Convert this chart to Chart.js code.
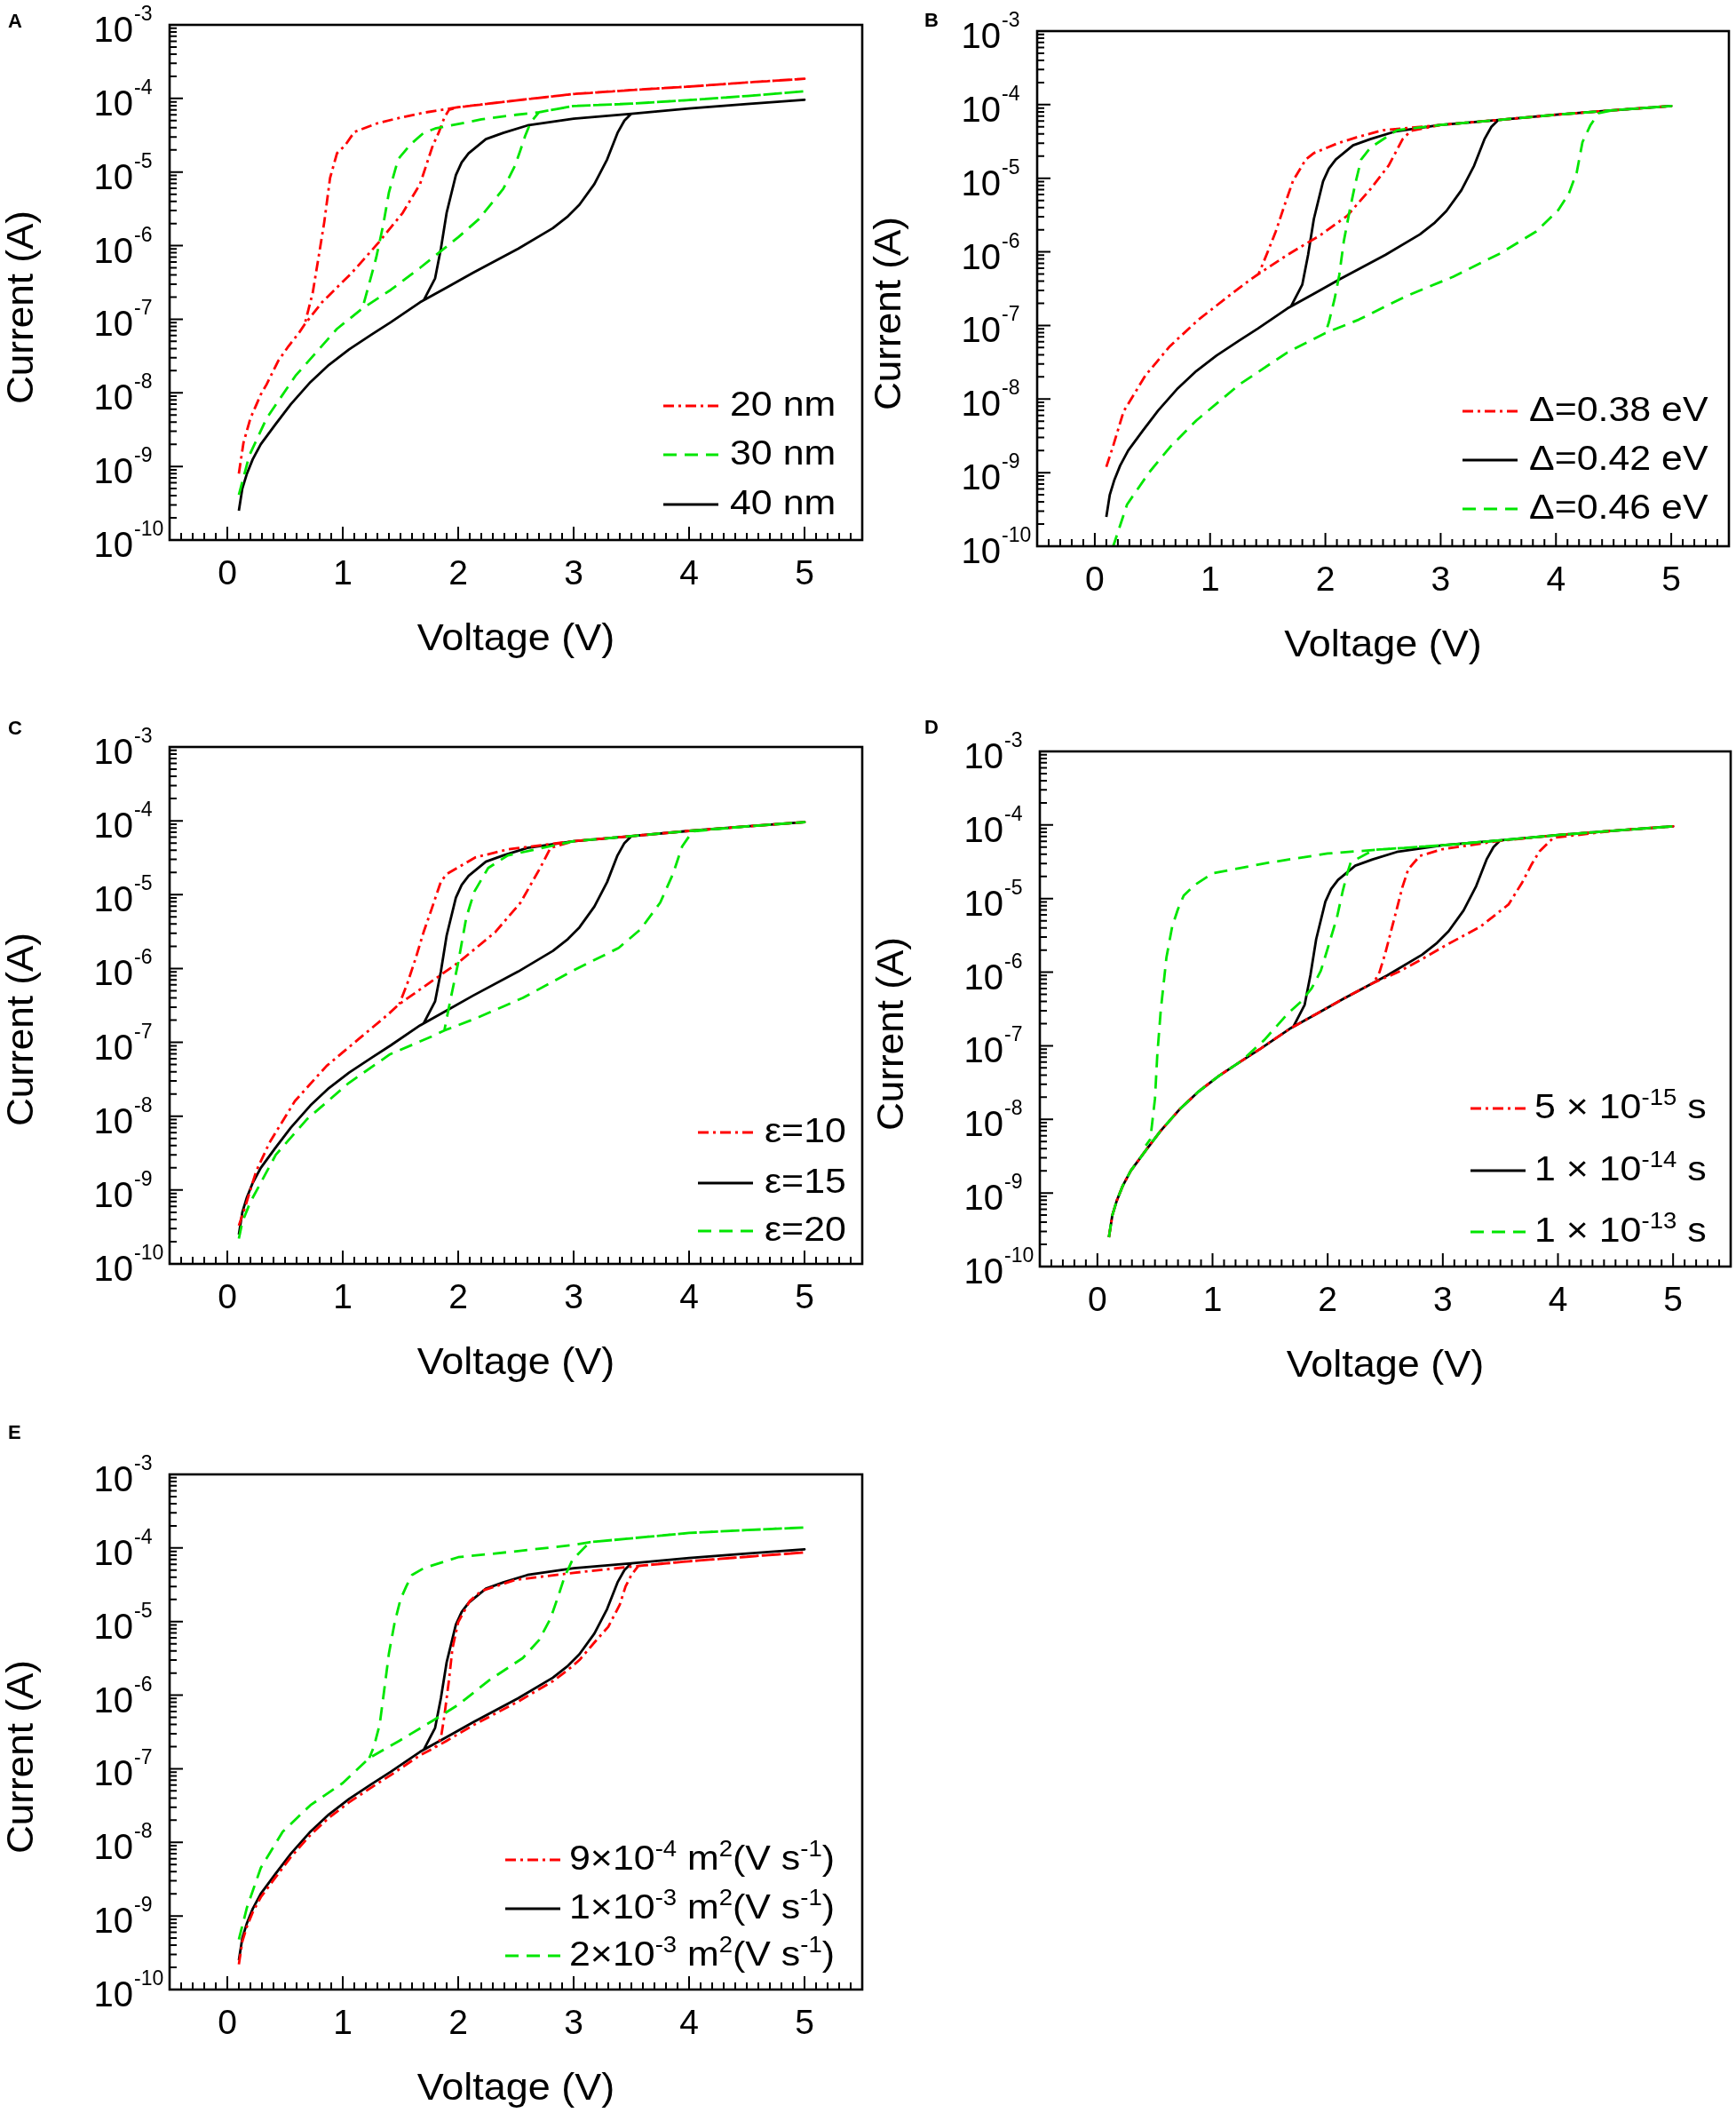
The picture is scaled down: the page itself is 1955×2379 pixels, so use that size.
<!DOCTYPE html>
<html>
<head>
<meta charset="utf-8">
<script src="https://cdn.jsdelivr.net/npm/chart.js@4.4.0/dist/chart.umd.min.js"></script>
<style>
  body { margin: 0; background: #fff; }
  #page { position: relative; width: 1955px; height: 2379px; background: #fff; }
  canvas { position: absolute; }
</style>
</head>
<body>
<div id="page"></div>
<script>
// ---- axis ticks ----
const xTicks = [0, 1, 2, 3, 4, 5];
const xTickLabels = ['0', '1', '2', '3', '4', '5'];
const yExps = [-10, -9, -8, -7, -6, -5, -4, -3];

// ---- reference curve (black), same in every panel: forward sweep, then back ----
const blackV = [0.1, 0.13, 0.17, 0.22, 0.29, 0.415, 0.55, 0.72, 0.88, 1.055, 1.25, 1.415, 1.67, 1.9, 2.13, 2.52, 2.82, 2.95, 3.05,
  3.18, 3.29, 3.38, 3.44, 3.5, 4.0, 4.5, 5.0,
  4.5, 4.0, 3.5, 3.0, 2.6, 2.39, 2.24, 2.09, 2.03, 1.98, 1.9, 1.85, 1.8, 1.7];
const blackI = [2.5e-10, 5e-10, 8e-10, 1.25e-9, 2e-9, 3.7e-9, 7e-9, 1.4e-8, 2.4e-8, 3.9e-8, 6.2e-8, 9.1e-8, 1.7e-7, 2.7e-7, 4.3e-7, 9.1e-7, 1.73e-6, 2.5e-6, 3.6e-6,
  6.9e-6, 1.48e-5, 3.4e-5, 5e-5, 6.2e-5, 7.3e-5, 8.4e-5, 9.6e-5,
  8.4e-5, 7.3e-5, 6.2e-5, 5.3e-5, 4.3e-5, 3.4e-5, 2.8e-5, 1.8e-5, 1.35e-5, 9.1e-6, 2.8e-6, 9.1e-7, 3.6e-7, 1.8e-7];

// ---- A: thickness ----
const aRedV = [0.1, 0.14, 0.2, 0.29, 0.34, 0.44, 0.53, 0.62, 0.67, 0.82, 1.08, 1.31, 1.52, 1.67, 1.78, 1.83, 1.88, 1.92, 2.0, 2.5, 3.0, 3.5, 4.0, 4.5, 5.0,
  4.5, 4.0, 3.5, 3.0, 2.5, 2.0, 1.7, 1.5, 1.3, 1.1, 1.02, 0.95, 0.89, 0.84, 0.79, 0.74, 0.67];
const aRedI = [8e-10, 2.1e-9, 4.5e-9, 9.5e-9, 1.3e-8, 2.7e-8, 4.3e-8, 6.5e-8, 8.5e-8, 1.7e-7, 4.3e-7, 1.1e-6, 2.8e-6, 6.9e-6, 2.3e-5, 3.4e-5, 5.5e-5, 7e-5, 7.6e-5, 9.4e-5, 1.15e-4, 1.3e-4, 1.45e-4, 1.65e-4, 1.85e-4,
  1.65e-4, 1.45e-4, 1.3e-4, 1.15e-4, 9.4e-5, 7.6e-5, 6.4e-5, 5.5e-5, 4.6e-5, 3.5e-5, 2.3e-5, 1.8e-5, 8.3e-6, 2.1e-6, 6.9e-7, 2.3e-7, 8.5e-8];
const aGreenV = [0.1, 0.19, 0.34, 0.59, 0.95, 1.17, 1.415, 1.67, 2.0, 2.18, 2.39, 2.49, 2.54, 2.58, 2.63, 2.7, 3.0, 3.5, 4.0, 4.5, 5.0,
  4.5, 4.0, 3.5, 3.0, 2.7, 2.5, 2.2, 2.0, 1.8, 1.7, 1.59, 1.48, 1.4, 1.35, 1.29, 1.22, 1.17];
const aGreenI = [4.1e-10, 1.4e-9, 4.5e-9, 1.7e-8, 7.4e-8, 1.4e-7, 2.5e-7, 5e-7, 1.3e-6, 2.3e-6, 5.9e-6, 1.2e-5, 2e-5, 3.1e-5, 4.8e-5, 6.5e-5, 7.9e-5, 8.5e-5, 9.5e-5, 1.08e-4, 1.25e-4,
  1.08e-4, 9.5e-5, 8.5e-5, 7.9e-5, 6.5e-5, 6e-5, 5.2e-5, 4.5e-5, 3.9e-5, 3.4e-5, 2.4e-5, 1.5e-5, 5.3e-6, 1.9e-6, 6.9e-7, 2.7e-7, 1.4e-7];

// ---- B: barrier ----
const bRedV = [0.1, 0.155, 0.25, 0.44, 0.65, 0.9, 1.16, 1.35, 1.42, 1.67, 1.96, 2.19, 2.39, 2.55, 2.67, 2.74, 3.0, 3.5, 4.0, 4.5, 5.0,
  4.5, 4.0, 3.5, 3.0, 2.5, 2.27, 2.11, 1.9, 1.83, 1.72, 1.65, 1.57, 1.5, 1.44, 1.42];
const bRedI = [1.2e-9, 2.2e-9, 6.8e-9, 2.1e-8, 5.2e-8, 1.2e-7, 2.5e-7, 4.2e-7, 5e-7, 9.1e-7, 1.7e-6, 3.1e-6, 7.1e-6, 1.5e-5, 3.4e-5, 4.4e-5, 5.3e-5, 6.2e-5, 7.3e-5, 8.4e-5, 9.6e-5,
  8.4e-5, 7.3e-5, 6.2e-5, 5.3e-5, 4.5e-5, 3.6e-5, 3e-5, 2.2e-5, 1.8e-5, 9.3e-6, 4.5e-6, 1.9e-6, 1e-6, 5.9e-7, 5e-7];
const bGreenV = [0.1, 0.16, 0.28, 0.47, 0.65, 0.88, 1.26, 1.67, 2.0, 2.29, 2.7, 3.11, 3.52, 3.83, 4.02, 4.11, 4.18, 4.23, 4.3, 4.37, 4.5, 5.0,
  4.5, 4.0, 3.5, 3.0, 2.62, 2.39, 2.31, 2.26, 2.21, 2.16, 2.12, 2.08, 2.03, 2.0];
const bGreenI = [5e-11, 1e-10, 3.7e-10, 1e-9, 2.2e-9, 5.1e-9, 1.6e-8, 4.3e-8, 7.9e-8, 1.2e-7, 2.5e-7, 4.6e-7, 9.6e-7, 1.9e-6, 3.7e-6, 6.1e-6, 1.2e-5, 3.1e-5, 5.3e-5, 7.7e-5, 8.4e-5, 9.6e-5,
  8.4e-5, 7.3e-5, 6.2e-5, 5.3e-5, 4.5e-5, 2.6e-5, 1.8e-5, 8.5e-6, 3.6e-6, 1.4e-6, 4.8e-7, 2.3e-7, 1.1e-7, 7.9e-8];

// ---- C: permittivity ----
const cRedV = [0.1, 0.16, 0.25, 0.366, 0.585, 0.86, 1.135, 1.38, 1.49, 1.82, 2.0, 2.32, 2.54, 2.71, 2.8, 3.0, 3.5, 4.0, 4.5, 5.0,
  4.5, 4.0, 3.5, 3.0, 2.43, 2.15, 1.9, 1.85, 1.77, 1.7, 1.63, 1.56, 1.49];
const cRedI = [3.3e-10, 6.3e-10, 1.8e-9, 4.4e-9, 1.6e-8, 4.8e-8, 1.1e-7, 2.3e-7, 3.3e-7, 7.6e-7, 1.2e-6, 3.1e-6, 7.8e-6, 2.3e-5, 4.3e-5, 5.3e-5, 6.2e-5, 7.3e-5, 8.4e-5, 9.6e-5,
  8.4e-5, 7.3e-5, 6.2e-5, 5.3e-5, 4.1e-5, 3.2e-5, 1.9e-5, 1.5e-5, 6.4e-6, 3.1e-6, 1.35e-6, 6.3e-7, 3.3e-7];
const cGreenV = [0.1, 0.13, 0.2, 0.42, 0.69, 1.05, 1.41, 1.77, 1.88, 2.15, 2.56, 2.98, 3.39, 3.58, 3.75, 3.86, 3.94, 4.03, 4.5, 5.0,
  4.5, 4.0, 3.5, 3.0, 2.43, 2.26, 2.14, 2.07, 2.0, 1.93, 1.88];
const cGreenI = [2.2e-10, 3.7e-10, 6.9e-10, 3e-9, 9.1e-9, 2.8e-8, 6.9e-8, 1.2e-7, 1.45e-7, 2.1e-7, 4e-7, 9.1e-7, 1.9e-6, 3.4e-6, 7.8e-6, 1.9e-5, 4.5e-5, 7.2e-5, 8.4e-5, 9.6e-5,
  8.4e-5, 7.3e-5, 6.2e-5, 5.3e-5, 3.4e-5, 2.3e-5, 1.1e-5, 4.9e-6, 1.2e-6, 3.6e-7, 1.45e-7];

// ---- D: relaxation time ----
const dRedV = [0.1, 0.13, 0.17, 0.22, 0.29, 0.415, 0.55, 0.72, 0.88, 1.055, 1.25, 1.415, 1.67, 1.9, 2.13, 2.4, 2.61, 2.8, 3.0, 3.33, 3.57, 3.69, 3.77, 3.84, 3.96, 4.5, 5.0,
  4.5, 4.0, 3.5, 3.0, 2.8, 2.7, 2.65, 2.6, 2.55, 2.5, 2.45, 2.4];
const dRedI = [2.5e-10, 5e-10, 8e-10, 1.25e-9, 2e-9, 3.7e-9, 7e-9, 1.4e-8, 2.4e-8, 3.9e-8, 6.2e-8, 9.1e-8, 1.7e-7, 2.7e-7, 4.3e-7, 7.2e-7, 1e-6, 1.45e-6, 2.2e-6, 4.2e-6, 8.3e-6, 1.66e-5, 2.9e-5, 4.4e-5, 6.7e-5, 8.4e-5, 9.6e-5,
  8.4e-5, 7.3e-5, 6.1e-5, 4.7e-5, 3.8e-5, 2.5e-5, 1.45e-5, 7.2e-6, 3.6e-6, 1.8e-6, 1e-6, 7.2e-7];
const dGreenV = [0.1, 0.13, 0.17, 0.22, 0.29, 0.415, 0.55, 0.72, 0.88, 1.055, 1.25, 1.45, 1.55, 1.65, 1.77, 1.86, 1.94, 2.0, 2.08, 2.13, 2.17, 2.2, 2.4, 3.0, 3.5, 4.0, 4.5, 5.0,
  4.5, 4.0, 3.5, 3.0, 2.5, 2.0, 1.5, 1.0, 0.85, 0.75, 0.7, 0.65, 0.6, 0.55, 0.52, 0.5, 0.46, 0.42];
const dGreenI = [2.5e-10, 5e-10, 8e-10, 1.25e-9, 2e-9, 3.7e-9, 7e-9, 1.4e-8, 2.4e-8, 3.9e-8, 6.2e-8, 1.2e-7, 1.8e-7, 2.7e-7, 4e-7, 6e-7, 1.04e-6, 2.1e-6, 5.5e-6, 1.25e-5, 2.2e-5, 3.1e-5, 4.6e-5, 5.3e-5, 6.2e-5, 7.3e-5, 8.4e-5, 9.6e-5,
  8.4e-5, 7.3e-5, 6.2e-5, 5.3e-5, 4.7e-5, 4.1e-5, 3.1e-5, 2.2e-5, 1.55e-5, 1.1e-5, 7.2e-6, 4.2e-6, 1.6e-6, 3e-7, 7.4e-8, 1.9e-8, 5.4e-9, 4.4e-9];

// ---- E: mobility ----
const eRedV = [0.1, 0.13, 0.17, 0.22, 0.29, 0.415, 0.55, 0.72, 0.88, 1.055, 1.25, 1.415, 1.67, 1.8, 1.9, 2.13, 2.52, 2.82, 2.95, 3.05, 3.18, 3.3, 3.4, 3.45, 3.5, 3.56, 4.0, 4.5, 5.0,
  4.5, 4.0, 3.56, 3.0, 2.5, 2.2, 2.1, 2.0, 1.95, 1.92, 1.88, 1.85, 1.8];
const eRedI = [2.2e-10, 4.5e-10, 7.2e-10, 1.12e-9, 1.8e-9, 3.3e-9, 6.3e-9, 1.26e-8, 2.16e-8, 3.5e-8, 5.6e-8, 8.2e-8, 1.53e-7, 1.95e-7, 2.4e-7, 3.9e-7, 8.2e-7, 1.55e-6, 2.2e-6, 3e-6, 5.2e-6, 8.5e-6, 1.7e-5, 3e-5, 4.3e-5, 5.7e-5, 6.6e-5, 7.6e-5, 8.7e-5,
  7.6e-5, 6.6e-5, 5.7e-5, 4.6e-5, 3.7e-5, 2.6e-5, 1.9e-5, 9.8e-6, 4.3e-6, 1.6e-6, 5.2e-7, 2.6e-7, 1.95e-7];
const eGreenV = [0.1, 0.17, 0.29, 0.48, 0.72, 1.0, 1.23, 1.49, 1.78, 2.0, 2.27, 2.56, 2.7, 2.8, 2.87, 2.92, 2.99, 3.09, 3.14, 4.0, 4.5, 5.0,
  4.5, 4.0, 3.14, 3.0, 2.5, 2.0, 1.7, 1.6, 1.55, 1.5, 1.45, 1.4, 1.36, 1.32, 1.27, 1.23];
const eGreenI = [4.8e-10, 1.3e-9, 4.5e-9, 1.4e-8, 3.2e-8, 6.4e-8, 1.4e-7, 2.4e-7, 4.5e-7, 7.4e-7, 1.6e-6, 3.2e-6, 5.6e-6, 1.1e-5, 2.3e-5, 4e-5, 6.9e-5, 1e-4, 1.2e-4, 1.6e-4, 1.75e-4, 1.9e-4,
  1.75e-4, 1.6e-4, 1.2e-4, 1.1e-4, 9e-5, 7.5e-5, 5.3e-5, 4.3e-5, 3e-5, 2e-5, 9.8e-6, 3.7e-6, 1.2e-6, 4e-7, 2e-7, 1.4e-7];

// ---- legend labels (^{..} = superscript) ----
const legendA = ['20 nm', '30 nm', '40 nm'];
const legendB = ['\u0394=0.38 eV', '\u0394=0.42 eV', '\u0394=0.46 eV'];
const legendC = ['\u03b5=10', '\u03b5=15', '\u03b5=20'];
const legendD = ['5 \u00d7 10^{-15} s', '1 \u00d7 10^{-14} s', '1 \u00d7 10^{-13} s'];
const legendE = ['9\u00d710^{-4} m^{2}(V s^{-1})', '1\u00d710^{-3} m^{2}(V s^{-1})', '2\u00d710^{-3} m^{2}(V s^{-1})'];

const FONT = "'Liberation Sans', Arial, Helvetica, sans-serif";
const STYLES = {
  red:   { color: '#ff0000', dash: [12, 5, 3, 5] },
  green: { color: '#00e600', dash: [15, 9] },
  black: { color: '#000000', dash: [] }
};

const panels = [
  { letter: 'A', box: [0, 0, 977, 790], plot: [191, 28, 971, 608], letterAt: [9, 31],
    series: [[aGreenV, aGreenI, 'green'], [aRedV, aRedI, 'red'], [blackV, blackI, 'black']],
    legend: { labels: legendA, styles: ['red', 'green', 'black'], sx: 556, tx: 631, rows: [426, 481, 537] } },
  { letter: 'B', box: [977, 0, 978, 790], plot: [1168, 35, 1947, 615], letterAt: [64, 30],
    series: [[bGreenV, bGreenI, 'green'], [bRedV, bRedI, 'red'], [blackV, blackI, 'black']],
    legend: { labels: legendB, styles: ['red', 'black', 'green'], sx: 479, tx: 554, rows: [425, 480, 535] } },
  { letter: 'C', box: [0, 790, 977, 800], plot: [191, 841, 971, 1423], letterAt: [9, 37],
    series: [[cGreenV, cGreenI, 'green'], [cRedV, cRedI, 'red'], [blackV, blackI, 'black']],
    legend: { labels: legendC, styles: ['red', 'black', 'green'], sx: 595, tx: 670, rows: [431, 488, 542] } },
  { letter: 'D', box: [977, 790, 978, 800], plot: [1171, 846, 1949, 1426], letterAt: [64, 36],
    series: [[dGreenV, dGreenI, 'green'], [dRedV, dRedI, 'red'], [blackV, blackI, 'black']],
    legend: { labels: legendD, styles: ['red', 'black', 'green'], sx: 485, tx: 557, rows: [399, 469, 538] } },
  { letter: 'E', box: [0, 1590, 977, 789], plot: [191, 1660, 971, 2240], letterAt: [9, 30],
    series: [[eGreenV, eGreenI, 'green'], [eRedV, eRedI, 'red'], [blackV, blackI, 'black']],
    legend: { labels: legendE, styles: ['red', 'black', 'green'], sx: 378, tx: 450, rows: [431, 486, 539] } }
];

// text with ^{..} superscripts, stretched horizontally by sx
function richText(ctx, str, x, y, size, supSize, rise, sx) {
  const parts = str.split(/(\^\{[^}]*\})/).filter(s => s.length);
  ctx.save();
  ctx.translate(x, y);
  ctx.scale(sx, 1);
  ctx.textAlign = 'left';
  ctx.textBaseline = 'alphabetic';
  let cx = 0;
  parts.forEach(p => {
    if (p.startsWith('^{')) {
      const t = p.slice(2, -1);
      ctx.font = supSize + 'px ' + FONT;
      ctx.fillText(t, cx, -rise);
      cx += ctx.measureText(t).width;
    } else {
      ctx.font = size + 'px ' + FONT;
      ctx.fillText(p, cx, 0);
      cx += ctx.measureText(p).width;
    }
  });
  ctx.restore();
}

function makeDecor(p) {
  return {
    id: 'decor' + p.letter,
    afterDraw(chart) {
      const { ctx, chartArea: a } = chart;
      const xs = chart.scales.x, ys = chart.scales.y;
      ctx.save();
      ctx.fillStyle = '#000';
      ctx.strokeStyle = '#000';

      // frame
      ctx.lineWidth = 2.6;
      ctx.setLineDash([]);
      ctx.strokeRect(a.left, a.top, a.right - a.left, a.bottom - a.top);

      // inward ticks
      ctx.lineWidth = 2;
      ctx.beginPath();
      yExps.forEach(e => {
        const py = ys.getPixelForValue(Math.pow(10, e));
        ctx.moveTo(a.left, py); ctx.lineTo(a.left + 15, py);
        if (e < -3) {
          for (let k = 2; k <= 9; k++) {
            const q = ys.getPixelForValue(k * Math.pow(10, e));
            ctx.moveTo(a.left, q); ctx.lineTo(a.left + 8, q);
          }
        }
      });
      for (let i = -5; i <= 55; i++) {
        const px = xs.getPixelForValue(i / 10);
        const len = i % 10 === 0 ? 15 : 8;
        ctx.moveTo(px, a.bottom); ctx.lineTo(px, a.bottom - len);
      }
      ctx.stroke();

      // y tick labels 10^n
      yExps.forEach(e => {
        const py = ys.getPixelForValue(Math.pow(10, e));
        ctx.font = '40px ' + FONT;
        ctx.textAlign = 'right';
        ctx.textBaseline = 'alphabetic';
        ctx.fillText('10', a.left - 41, py + 19);
        ctx.font = '23px ' + FONT;
        ctx.textAlign = 'left';
        ctx.fillText(String(e), a.left - 40, py - 5);
      });

      // x tick labels
      ctx.font = '39px ' + FONT;
      ctx.textAlign = 'center';
      xTicks.forEach((v, i) => {
        ctx.fillText(xTickLabels[i], xs.getPixelForValue(v), a.bottom + 50);
      });

      // axis titles
      ctx.save();
      ctx.translate((a.left + a.right) / 2, a.bottom + 124);
      ctx.scale(1.07, 1);
      ctx.font = '42px ' + FONT;
      ctx.textAlign = 'center';
      ctx.fillText('Voltage (V)', 0, 0);
      ctx.restore();

      ctx.save();
      ctx.translate(a.left - 166, a.top + 318);
      ctx.rotate(-Math.PI / 2);
      ctx.scale(1.05, 1);
      ctx.font = '42px ' + FONT;
      ctx.textAlign = 'center';
      ctx.textBaseline = 'middle';
      ctx.fillText('Current (A)', 0, 0);
      ctx.restore();

      // legend
      const lg = p.legend;
      lg.labels.forEach((label, i) => {
        const st = STYLES[lg.styles[i]];
        const ry = a.top + lg.rows[i];
        ctx.save();
        ctx.strokeStyle = st.color;
        ctx.lineWidth = 2.8;
        ctx.setLineDash(st.dash);
        ctx.beginPath();
        ctx.moveTo(a.left + lg.sx, ry + 3);
        ctx.lineTo(a.left + lg.sx + 62, ry + 3);
        ctx.stroke();
        ctx.restore();
        richText(ctx, label, a.left + lg.tx, ry + 14, 39, 25, 15, 1.1);
      });

      // panel letter
      ctx.font = 'bold 22px ' + FONT;
      ctx.textAlign = 'left';
      ctx.textBaseline = 'alphabetic';
      ctx.fillText(p.letter, p.letterAt[0], p.letterAt[1]);
      ctx.restore();
    }
  };
}

const page = document.getElementById('page');
panels.forEach(p => {
  const [bx, by, bw, bh] = p.box;
  const cv = document.createElement('canvas');
  cv.width = bw; cv.height = bh;
  cv.style.left = bx + 'px'; cv.style.top = by + 'px';
  cv.style.width = bw + 'px'; cv.style.height = bh + 'px';
  page.appendChild(cv);

  const datasets = p.series.map(([V, I, s]) => ({
    data: V.map((v, k) => ({ x: v, y: I[k] })),
    showLine: true,
    borderColor: STYLES[s].color,
    borderDash: STYLES[s].dash,
    borderWidth: 2.8,
    borderJoinStyle: 'round',
    pointRadius: 0,
    pointHoverRadius: 0,
    fill: false,
    tension: 0
  }));

  new Chart(cv, {
    type: 'scatter',
    data: { datasets },
    options: {
      responsive: false,
      animation: false,
      devicePixelRatio: 1,
      events: [],
      layout: {
        padding: {
          left: p.plot[0] - bx,
          top: p.plot[1] - by,
          right: bx + bw - p.plot[2],
          bottom: by + bh - p.plot[3]
        }
      },
      plugins: { legend: { display: false }, tooltip: { enabled: false } },
      scales: {
        x: { type: 'linear', min: -0.5, max: 5.5, display: false },
        y: { type: 'logarithmic', min: 1e-10, max: 1e-3, display: false }
      }
    },
    plugins: [makeDecor(p)]
  });
});
</script>
</body>
</html>
